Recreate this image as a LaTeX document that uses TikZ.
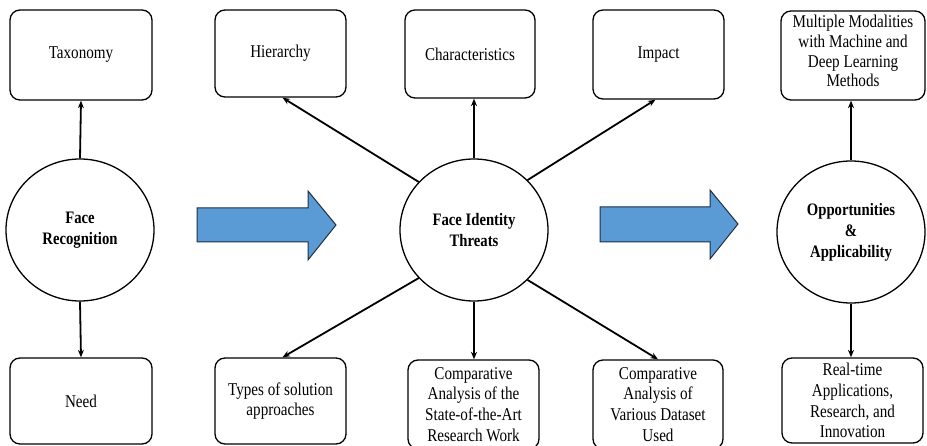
\documentclass[tikz,border=0pt]{standalone}
\usepackage{fontspec}
\setmainfont{Liberation Serif}[FakeStretch=0.84]
\usetikzlibrary{shapes.geometric,arrows.meta}
\definecolor{flowblue}{HTML}{5B9BD5}
\definecolor{flowedge}{HTML}{1E2E40}
\begin{document}
\begin{tikzpicture}[x=1pt,y=-1pt,
  topicbox/.style={draw, line width=1.3pt, rounded corners=10pt, align=center,
    inner sep=2pt, font=\fontsize{18}{20.8}\selectfont},
  hub/.style={draw, ellipse, line width=1.3pt, minimum width=148pt, minimum height=142pt,
    inner sep=0pt, align=center, font=\fontsize{17.5}{21}\selectfont\bfseries},
  link/.style={line width=1.8pt, -{Stealth[length=7.5pt,width=6pt]}},
  flow/.style={fill=flowblue, draw=flowedge, line width=1pt, line join=miter}]
\useasboundingbox (0,0) rectangle (927,446);

% central hubs
\node[hub] (fr)  at (80,230)  {Face\\Recognition};
\node[hub] (fit) at (474,230) {Face Identity\\Threats};
\node[hub] (opp) at (851,232) {Opportunities\\\&\\Applicability};

% top row
\node[topicbox, minimum width=142pt, minimum height=90pt] (tax)  at (81,55)    {Taxonomy};
\node[topicbox, minimum width=131pt, minimum height=87pt] (hier) at (280.5,53.5) {Hierarchy};
\node[topicbox, minimum width=130pt, minimum height=88pt] (char) at (470,54)   {Characteristics};
\node[topicbox, minimum width=131pt, minimum height=89pt] (imp)  at (658.5,54.5) {Impact};
\node[topicbox, minimum width=144pt, minimum height=89pt,
  font=\fontsize{18}{19.8}\selectfont] (mm) at (853,55.5)
  {Multiple Modalities\\with Machine and\\Deep Learning\\Methods\rule[-9pt]{0pt}{0pt}};

% bottom row
\node[topicbox, minimum width=142pt, minimum height=86pt] (need)  at (81,401)    {Need};
\node[topicbox, minimum width=131pt, minimum height=86pt] (types) at (280.5,401) {Types of solution\\approaches};
\node[topicbox, minimum width=131pt, minimum height=89pt] (cs)    at (473.5,404.5) {Comparative\\Analysis of the\\State-of-the-Art\\Research Work};
\node[topicbox, minimum width=130pt, minimum height=89pt] (cd)    at (658,404.5) {Comparative\\Analysis of\\Various Dataset\\Used};
\node[topicbox, minimum width=141pt, minimum height=85pt] (rt)    at (852.5,400.5) {Real-time\\Applications,\\Research, and\\Innovation};

% connectors
\draw[link] (fr.north) -- (tax.south);
\draw[link] (fr.south) -- (need.north);
\draw[link] (fit.139) -- ([xshift=2pt]hier.south);
\draw[link] (fit.north) -- (fit.north |- char.south);
\draw[link] (fit.43) -- ([xshift=-3pt]imp.south);
\draw[link] (fit.221) -- ([xshift=2pt]types.north);
\draw[link] (fit.south) -- (fit.south |- cs.north);
\draw[link] (fit.317) -- (cd.north);
\draw[link] (opp.north) -- (opp.north |- mm.south);
\draw[link] (opp.south) -- (opp.south |- rt.north);

% block arrows between stages
\draw[flow] (197,208) -- (308,208) -- (308,191) -- (336,225) -- (308,260)
  -- (308,242) -- (197,242) -- cycle;
\draw[flow] (600,207) -- (710,207) -- (710,190) -- (738,224) -- (710,259)
  -- (710,242) -- (600,242) -- cycle;
\end{tikzpicture}
\end{document}
